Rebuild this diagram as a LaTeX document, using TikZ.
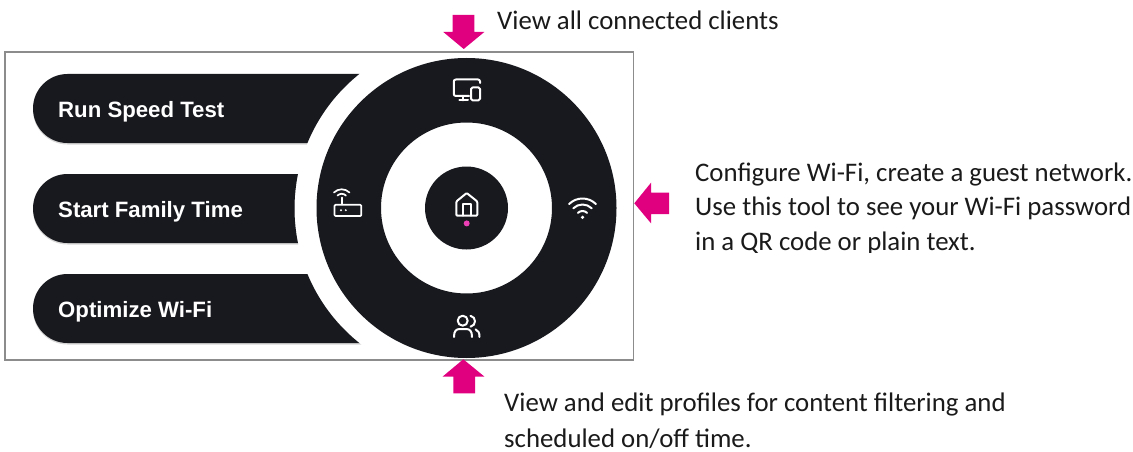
\documentclass[tikz,border=0pt]{standalone}
\usepackage{fontspec}
\setmainfont{Carlito}
\newfontfamily\pillfont{Liberation Sans}[BoldFont={Liberation Sans Bold}]
\definecolor{ink}{HTML}{18191F}
\definecolor{mag}{HTML}{E0007F}
\definecolor{dotpink}{HTML}{EC3FB5}
\definecolor{framegray}{HTML}{8C8C8C}
\definecolor{bodytext}{HTML}{1A1A1A}
\tikzset{
  x=1pt,y=-1pt,
  pill/.style={fill=ink,draw=none},
  pillshadow/.style={fill=black!16,draw=none},
  pilllabel/.style={font=\pillfont\bfseries\fontsize{22.2}{26}\selectfont,text=white,anchor=base west,inner sep=0pt},
  note/.style={font=\fontsize{26.8}{34}\selectfont,text=bodytext,anchor=base west,inner sep=0pt},
  pointer/.style={fill=mag,draw=none},
  icon/.style={draw=white,line width=2pt,line join=round,line cap=round}
}
\begin{document}
\begin{tikzpicture}
\useasboundingbox (0,0) rectangle (1133,452);
\fill[white] (0,0) rectangle (1133,452);
\coordinate (c) at (466.5,208);
% frame
\draw[framegray,line width=1.6pt] (5,52.3) rectangle (633.5,360);
% pills, cut by a circle round the dial
\begin{scope}[even odd rule]
\clip (0,0) rectangle (1133,452) (466.5,208.5) circle [radius=172];
\foreach \t in {74,174,274}{
  \fill[pillshadow] (67.5,\t+1.5) arc[start angle=-90,end angle=-270,radius=34.5] -- (420,\t+70.5) -- (420,\t+1.5) -- cycle;
  \fill[pill] (67.5,\t) arc[start angle=-90,end angle=-270,radius=34.5] -- (420,\t+69) -- (420,\t) -- cycle;
}
\end{scope}
% dial
\fill[ink,even odd rule] (c) circle [radius=150] (c) circle [radius=85.5];
\fill[ink] (c) circle [radius=41.5];
\node[pilllabel] (speed) at (58,117.3) {Run Speed Test};
\node[pilllabel] (family) at (58,217) {Start Family Time};
\node[pilllabel] (opt) at (58,317) {Optimize Wi-Fi};
% monitor icon
\draw[icon,rounded corners=2pt] (480,83) -- (480,79.5) -- (453.8,79.5) -- (453.8,96) -- (469,96);
\draw[icon] (462.7,96) -- (462.7,100.3) (459.3,100.3) -- (468,100.3);
\draw[icon,rounded corners=1.5pt] (471,87.5) rectangle (480,100.3);
% home icon
\draw[icon,rounded corners=1pt] (456.3,201.5) -- (466.7,193) -- (477.3,201.5) -- (477.3,215.7) -- (456.3,215.7) -- cycle;
\draw[icon] (463,215.7) -- (463,204) -- (471,204) -- (471,215.7);
\fill[dotpink] (466.7,223.4) circle [radius=3];
% wifi icon
\draw[icon] (582.5,217.5) ++(-135:19) arc[start angle=-135,end angle=-45,radius=19];
\draw[icon] (582.5,217.5) ++(-135:13) arc[start angle=-135,end angle=-45,radius=13];
\draw[icon] (582.5,217.5) ++(-135:6.5) arc[start angle=-135,end angle=-45,radius=6.5];
\fill[white] (582.5,217.3) circle [radius=1.8];
% router icon
\draw[icon,line width=1.7pt] (341.7,200.3) ++(-135:11) arc[start angle=-135,end angle=-45,radius=11];
\draw[icon,line width=1.7pt] (341.7,199.8) ++(-135:6) arc[start angle=-135,end angle=-45,radius=6];
\draw[icon,line width=1.7pt] (341.7,197.5) -- (341.7,204.5);
\draw[icon,line width=1.7pt,rounded corners=1pt] (334.5,204.8) rectangle (361.3,216);
\fill[white] (341,210.2) circle [radius=1.1] (345.8,210.2) circle [radius=1.1];
% people icon
\draw[icon] (462.7,320.7) circle [radius=5];
\draw[icon] (454,337) .. controls (454,331) and (456,329) .. (460,329) -- (466,329) .. controls (470,329) and (472,331) .. (472,337);
\draw[icon] (470.5,315.8) .. controls (476.5,317) and (476.5,325.5) .. (470.5,326.7);
\draw[icon] (475.5,329.3) .. controls (478.5,330.5) and (479.5,333) .. (479.5,337);
% pointers
\fill[pointer] (452.7,15) -- (474.3,15) -- (474.3,32) -- (484.3,32) -- (463.7,49) -- (443.3,32) -- (452.7,32) -- cycle;
\fill[pointer] (453.3,393.3) -- (475,393.3) -- (475,376.5) -- (484.3,376.5) -- (463.3,359.3) -- (442.7,376.5) -- (453.3,376.5) -- cycle;
\fill[pointer] (669,192.7) -- (669,214) -- (651,214) -- (651,223.3) -- (634.3,203.3) -- (651,182.7) -- (651,192.7) -- cycle;
% notes
\node[note] (n1) at (497,29.3) {View all connected clients};
\node[note] (n2a) at (695,181.7) {Configure Wi-Fi, create a guest network.};
\node[note] (n2b) at (695,215.8) {Use this tool to see your Wi-Fi password};
\begin{scope}
\clip (690,225) rectangle (1133,252.5);
\node[note] (n2c) at (695,250) {in a QR code or plain text.};
\end{scope}
\node[note] (n3a) at (504,411.7) {View and edit profiles for content filtering and};
\node[note] (n3b) at (504,447.3) {scheduled on/off time.};
\end{tikzpicture}
\end{document}
